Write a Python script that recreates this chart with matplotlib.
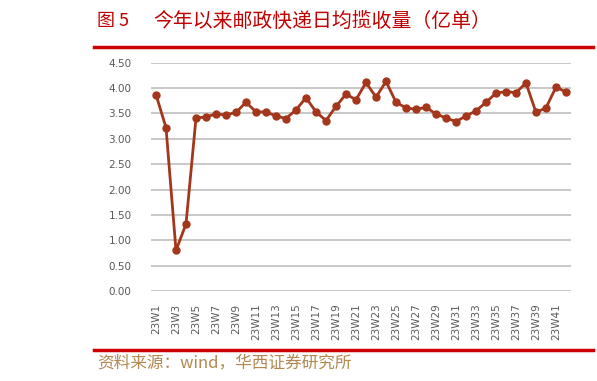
import matplotlib.pyplot as plt

plt.rcParams['font.family'] = ['Noto Sans CJK SC', 'DejaVu Sans']

weeks = [f"23W{i}" for i in range(1, 43)]
volume = [3.87, 3.22, 0.80, 1.32, 3.41, 3.43, 3.49, 3.47, 3.52, 3.72,
          3.53, 3.53, 3.45, 3.40, 3.57, 3.81, 3.53, 3.36, 3.64, 3.88,
          3.77, 4.11, 3.82, 4.13, 3.72, 3.61, 3.58, 3.62, 3.49, 3.41,
          3.34, 3.45, 3.55, 3.72, 3.90, 3.93, 3.91, 4.10, 3.52, 3.61,
          4.02, 3.92]
yticks = [0, 0.5, 1.0, 1.5, 2.0, 2.5, 3.0, 3.5, 4.0, 4.5]

W, H = 597, 381
fig = plt.figure(figsize=(W / 100, H / 100), dpi=100)
ax = fig.add_axes([151 / W, 1 - 291 / H, 420 / W, (291 - 62.7) / H])

x = list(range(len(weeks)))
ax.plot(x, volume, color="#A3361B", linewidth=2.0, marker="o",
        markersize=5, zorder=3)

ax.set_xlim(-0.5, len(weeks) - 0.5)
ax.set_ylim(0, 4.5)
ax.set_yticks(yticks)
ax.set_yticklabels([f"{v:.2f}" for v in yticks], fontsize=7.5,
                   color="#595959", family="DejaVu Sans")
ax.set_xticks(x[::2])
ax.set_xticklabels(weeks[::2], rotation=90, fontsize=7.5,
                   color="#595959", family="DejaVu Sans")
ax.tick_params(length=0)
ax.tick_params(axis="y", pad=14)
ax.tick_params(axis="x", pad=9)
ax.grid(axis="y", color="#BFBFBF", linewidth=1.2)
ax.set_axisbelow(True)
for s in ax.spines.values():
    s.set_visible(False)

# title and rules
fig.text(97 / W, 1 - 21 / H, "图 5", color="#C00000", fontsize=13,
         fontweight="light", va="center", ha="left")
fig.text(153 / W, 1 - 21 / H, "今年以来邮政快递日均揽收量（亿单）",
         color="#C00000", fontsize=14.3, fontweight="light",
         va="center", ha="left")
for yy in (46.7, 350):
    fig.add_artist(plt.Line2D([94 / W, 593 / W], [1 - yy / H, 1 - yy / H],
                              color="#CC0000", linewidth=2.5))
fig.text(97 / W, 1 - 363 / H, "资料来源：wind，华西证券研究所",
         color="#B08850", fontsize=12, fontweight="light",
         va="center", ha="left")

fig.savefig("out.png", dpi=100)
